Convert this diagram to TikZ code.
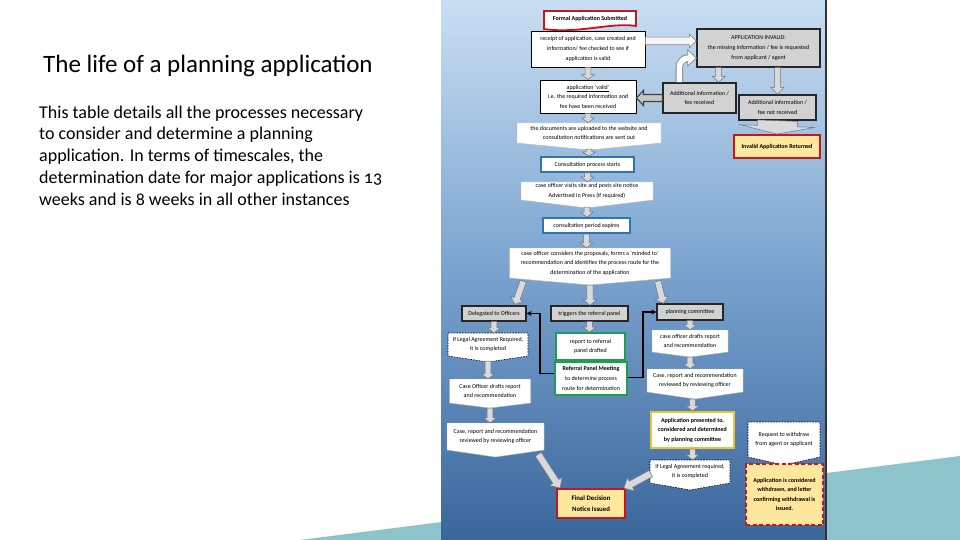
\documentclass[tikz,border=0pt]{standalone}
\usepackage{fontspec}
\setmainfont{Carlito}[Numbers=OldStyle]
\usetikzlibrary{calc,arrows.meta}
\definecolor{panelTop}{HTML}{C9DEF2}
\definecolor{panelMid}{HTML}{7AA3CF}
\definecolor{panelBot}{HTML}{3A669B}
\definecolor{tealdeco}{HTML}{8DC4CC}
\definecolor{boxgray}{HTML}{D2D2D2}
\definecolor{redb}{HTML}{C8161D}
\definecolor{yellowf}{HTML}{FFE79E}
\definecolor{blueb}{HTML}{2E75B6}
\definecolor{greenb}{HTML}{1F9E50}
\definecolor{goldb}{HTML}{F2C12E}
\definecolor{arrowfill}{HTML}{D9D9D9}
\definecolor{arrowline}{HTML}{6B7785}
\definecolor{curvline}{HTML}{808890}

\newcommand\chev[8]{%
  \path[#2] ({#3-#5/2},{#4-#6/2}) -- ({#3+#5/2},{#4-#6/2}) -- ({#3+#5/2},{#4+#6/2}) -- (#3,{#4+#6/2+#7}) -- ({#3-#5/2},{#4+#6/2}) -- cycle;
  \node[txt, minimum width=#5, minimum height=#6] (#1) at (#3,#4) {#8};
}
\newcommand\barrow[6][larrow]{%
  \draw[#1] let \p1=#2, \p2=#3, \n1={atan2(\y2-\y1,\x2-\x1)}, \n2={veclen(\x2-\x1,\y2-\y1)} in
   {[shift={(\p1)}, rotate=\n1] (0,-#4) -- ({\n2-#6},-#4) -- ({\n2-#6},-#5) -- (\n2,0) -- ({\n2-#6},#5) -- ({\n2-#6},#4) -- (0,#4) -- cycle};
}

\begin{document}
\begin{tikzpicture}[x=1pt,y=-1pt,
  txt/.style={font=\fontsize{6}{9.6}\selectfont, align=center, inner sep=0pt, text=black},
  btxt/.style={font=\fontsize{6}{9.6}\selectfont\bfseries},
  whitebox/.style={txt, fill=white, draw=black, line width=0.9},
  graybox/.style={txt, fill=boxgray, draw=black!85, line width=1.4},
  bluebox/.style={txt, fill=white, draw=blueb, line width=2},
  greenbox/.style={txt, fill=white, draw=greenb, line width=1.8},
  goldbox/.style={txt, fill=white, draw=goldb, line width=2.2},
  redbox/.style={txt, fill=yellowf, draw=redb, line width=1.8},
  reddash/.style={redbox, dash pattern=on 4pt off 2.5pt, line width=2},
  chevplain/.style={fill=white, draw=gray!55, line width=0.4},
  chevdash/.style={fill=white, draw=black, line width=0.6, dash pattern=on 1.6pt off 1.2pt},
  larrow/.style={fill=arrowfill, draw=arrowline, line width=0.5},
  hollowarrow/.style={fill=white!92!gray, draw=gray, line width=0.6},
  darkarrow/.style={fill=gray!45, draw=black!75, line width=1.1},
  link/.style={line width=1.4, draw=black, -{Stealth[length=5pt,width=5pt]}}
]
\useasboundingbox (0,0) rectangle (960,540);
\fill[white] (0,0) rectangle (960,540);
% slide decoration
\fill[tealdeco] (300,540) -- (960,456) -- (960,540) -- cycle;

% text
\node[anchor=base west, font=\fontsize{25}{30}\selectfont, inner sep=0] (title) at (43,73) {The life of a planning application};
\node[anchor=base west, align=left, font=\fontsize{18}{21.7}\selectfont, inner sep=0] (body) at (39,205) {This table details all the processes necessary\\to consider and determine a planning\\application. In terms of timescales, the\\determination date for major applications is 13\\weeks and is 8 weeks in all other instances};

% panel
\shade[top color=panelTop, bottom color=panelBot, middle color=panelMid] (441,0) rectangle (826,540);
\draw[line width=1.6, draw=black!80] (826,0) -- (826,540);

% nodes
\path[fill=white, draw=redb, line width=1.8] (544,11) -- (636,11) -- (636,26) .. controls (612,22) and (578,34) .. (544,29) -- cycle;
\node[txt, btxt] (n1) at (590,19) {Formal Application Submitted};
\node[whitebox, minimum width=114, minimum height=36] (n2) at (588,49) {receipt of application, case created and\\information/ fee checked to see if\\application is valid};
\node[graybox, minimum width=123, minimum height=38] (n4) at (758.5,48) {APPLICATION INVALID:\\the missing information / fee is requested\\from applicant / agent};
\node[whitebox, minimum width=96, minimum height=33] (n6) at (588,96.5) {\underline{application ‘valid’}\\i.e. the required information and\\fee have been received};
\node[graybox, minimum width=73, minimum height=30] (n7) at (699.5,98) {Additional information /\\fee received};
\node[graybox, minimum width=77, minimum height=25] (n12) at (777.5,107.5) {Additional information /\\fee not received};
\node[redbox, btxt, minimum width=86, minimum height=23] (n14) at (777,146.5) {Invalid Application Returned};
\chev{n16}{chevplain}{589}{133}{144}{20}{7}{the documents are uploaded to the website and\\consultation notifications are sent out}
\node[bluebox, minimum width=93, minimum height=15] (n17) at (587.5,164.5) {Consultation process starts};
\chev{n19}{chevplain}{587}{191}{132}{18}{8}{case officer visits site and posts site notice\\Advertised in Press (if required)}
\node[bluebox, minimum width=87, minimum height=15] (n21) at (586.5,225.5) {consultation period expires};
\chev{n23}{chevplain}{590}{263}{161}{30}{7}{case officer considers the proposals, forms a ‘minded to’\\recommendation and identifies the process route for the\\determination of the application}
\node[graybox, minimum width=64, minimum height=15] (n25) at (494,313.5) {Delegated to Officers};
\node[graybox, minimum width=77, minimum height=15] (n26) at (589.5,313.5) {triggers the referral panel};
\node[graybox, minimum width=66, minimum height=16] (n27) at (690,312) {planning committee};
\chev{n29}{chevdash}{488}{344.5}{80}{23}{6}{If Legal Agreement Required,\\it is completed}
\node[greenbox, minimum width=69, minimum height=27] (n30) at (590.5,346.5) {report to referral\\panel drafted};
\node[greenbox, minimum width=72, minimum height=33] (n31) at (591,378.5) {\textbf{Referral Panel Meeting}\\to determine process\\route for determination};
\chev{n32}{chevplain}{690}{341}{76}{22}{5}{case officer drafts report\\and recommendation}
\chev{n34}{chevplain}{490}{391}{81}{24}{5}{Case Officer drafts report\\and recommendation}
\chev{n36}{chevplain}{495.5}{436.5}{97}{27}{7}{Case, report and recommendation\\reviewed by reviewing officer}
\chev{n37}{chevplain}{695}{380.5}{96}{23}{7}{Case, report and recommendation\\reviewed by reviewing officer}
\node[goldbox, btxt, minimum width=83, minimum height=36] (n40) at (692.5,430) {Application presented to,\\considered and determined\\by planning committee};
\chev{n42}{chevdash}{690}{471.5}{80}{23}{7}{If Legal Agreement required,\\it is completed}
\node[redbox, font=\fontsize{6.8}{11}\selectfont\bfseries, minimum width=68, minimum height=29] (n45) at (591,503.5) {Final Decision\\Notice Issued};
\chev{n46}{chevdash}{784}{439.5}{72}{35}{8}{Request to withdraw\\from agent or applicant}
\node[reddash, btxt, minimum width=77, minimum height=61] (n47) at (784.5,494.5) {Application is considered\\withdrawn, and letter\\confirming withdrawal is\\issued.};

% helper coordinates
\coordinate (c3) at ($(n7.north east)+(-18,0)$);
\coordinate (t16) at ($(n16.south)+(0,6)$);
\coordinate (t19) at ($(n19.south)+(0,7)$);
\coordinate (t23) at ($(n23.south)+(0,7)$);
\coordinate (t29) at ($(n29.south)+(0,5)$);
\coordinate (t34) at ($(n34.south)+(0,5)$);
\coordinate (t32) at ($(n32.south)+(0,5)$);
\coordinate (t37) at ($(n37.south)+(-2.5,7)$);

% block arrows
\barrow[larrow]{(n2.south)}{(n2.south |- n6.north)}{2.8}{6.5}{5}
\barrow[hollowarrow]{($(n2.east)+(0,-8)$)}{($(n4.west)+(0,-7)$)}{3.8}{7}{7}
\barrow[larrow]{(c3 |- n4.south)}{(c3)}{3}{6.5}{6}
\barrow[larrow]{(n12.north |- n4.south)}{(n12.north)}{3}{6.5}{7}
\barrow[darkarrow]{(n7.west)}{(n6.east |- n7.west)}{3.5}{7.5}{7}
\barrow[larrow]{(n12.south)}{(n14.north)}{20}{37}{8}
\barrow[larrow]{(n6.south)}{(n6.south |- n16.north)}{2.8}{6.5}{5}
\barrow[larrow]{(t16)}{(t16 |- n17.north)}{2.8}{6.5}{4}
\barrow[larrow]{(n17.south)}{(n17.south |- n19.north)}{2.8}{6.5}{5}
\barrow[larrow]{(t19)}{(t19 |- n21.north)}{2.8}{6.5}{5}
\barrow[larrow]{(n21.south)}{(n21.south |- n23.north)}{2.8}{6.5}{5}
\barrow[larrow]{($(n23.south west)+(14,3)$)}{($(n25.north)+(21,-1)$)}{3.2}{7}{6}
\barrow[larrow]{(t23)}{(t23 |- n26.north)}{3.2}{7}{6}
\barrow[larrow]{($(n23.south east)+(-13,3)$)}{($(n27.north west)+(7,0)$)}{3.2}{7}{6}
\barrow[larrow]{(n25.south)}{(n25.south |- n29.north)}{2.8}{6.5}{5}
\barrow[larrow]{(n26.south)}{(n26.south |- n30.north)}{2.8}{6.5}{5}
\barrow[larrow]{(n27.south)}{(n27.south |- n32.north)}{2.8}{6.5}{5}
\barrow[larrow]{(t29)}{(t29 |- n34.north)}{2.8}{6.5}{5}
\barrow[larrow]{(t34)}{(t34 |- n36.north)}{2.8}{6.5}{5}
\barrow[larrow]{(t32)}{(t32 |- n37.north)}{2.8}{6.5}{5}
\barrow[larrow]{(t37)}{(t37 |- n40.north)}{2.8}{6.5}{5}
\barrow[larrow]{(n40.south)}{(n40.south |- n42.north)}{2.8}{6.5}{5}
\barrow[larrow]{($(n36.south east)+(-6,4)$)}{($(n45.north west)+(4,0)$)}{3.5}{7.5}{8}
\barrow[larrow]{($(n42.west)+(1,2)$)}{($(n45.north east)+(-2,0)$)}{3.5}{7.5}{8}

% curved arrow
\coordinate (cvA) at ($(n7.north west)+(17,0)$);
\coordinate (cvB) at ($(n4.west)+(0,10)$);
\draw[line width=7.4, draw=curvline] (cvA) -- ++(0,-15) to[out=90,in=180] ($(cvB)+(-8,0)$);
\draw[fill=white, draw=curvline, line width=0.7] ($(cvB)+(-8.5,-8)$) -- (cvB) -- ($(cvB)+(-8.5,8)$) -- cycle;
\draw[line width=5.6, draw=white] ($(cvA)+(0,-0.5)$) -- ++(0,-14.5) to[out=90,in=180] ($(cvB)+(-7.6,0)$);

% black links
\draw[link] ($(n31.west)+(0,-5)$) -- ++(-14,0) |- (n25.east);
\draw[link] ($(n31.east)+(0,-1)$) -- ++(15,0) |- (n27.west);
\end{tikzpicture}
\end{document}
